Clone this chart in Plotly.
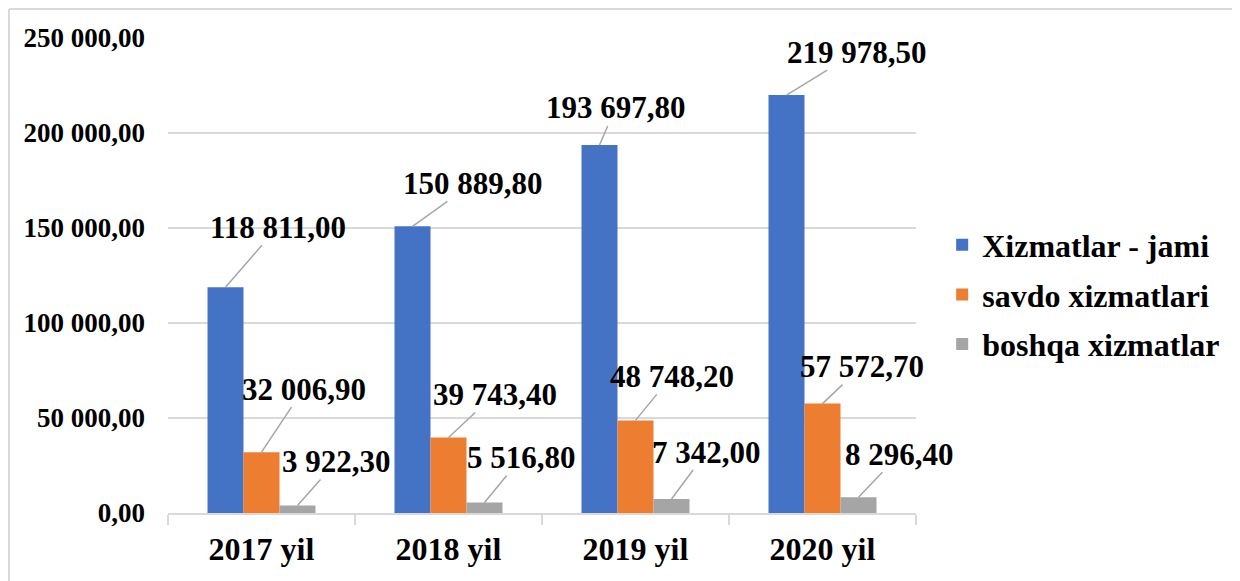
import plotly.graph_objects as go

categories = ["2017 yil", "2018 yil", "2019 yil", "2020 yil"]
series_names = ["Xizmatlar - jami", "savdo xizmatlari", "boshqa xizmatlar"]
xizmatlar_jami = [118811.00, 150889.80, 193697.80, 219978.50]
savdo_xizmatlari = [32006.90, 39743.40, 48748.20, 57572.70]
boshqa_xizmatlar = [3922.30, 5516.80, 7342.00, 8296.40]
y_ticks = [0, 50000, 100000, 150000, 200000, 250000]

series_values = [xizmatlar_jami, savdo_xizmatlari, boshqa_xizmatlar]
colors = ["#4472C4", "#ED7D31", "#A5A5A5"]

# label offsets (pixels) from bar top to label centre
label_offsets = [
    [(52, -60), (60, -43), (16, -37), (70, -43)],
    [(42, -63), (46, -43), (36, -44), (39, -37)],
    [(39, -44), (37, -45), (35, -47), (41, -43)],
]

FONT = "Liberation Serif"

def fmt(v):
    s = f"{v:,.2f}"
    intpart, dec = s.split(".")
    return intpart.replace(",", " ") + "," + dec

fig = go.Figure()
for name, vals, col in zip(series_names, series_values, colors):
    fig.add_trace(go.Bar(
        name=name, x=categories, y=vals, marker_color=col,
        marker_line_width=0, legendgroup=name,
    ))

bargap = 0.4225
n = len(series_values)
bw = (1 - bargap) / n
annotations = []
for si, vals in enumerate(series_values):
    off = (si - (n - 1) / 2) * bw
    for ci, v in enumerate(vals):
        ax, ay = label_offsets[si][ci]
        annotations.append(dict(
            x=ci + off, y=v, xref="x", yref="y",
            text=fmt(v), showarrow=True, arrowhead=0, arrowwidth=1.5,
            arrowcolor="#A6A6A6", ax=ax, ay=ay, standoff=0,
            font=dict(family=FONT, size=31, color="black", weight="bold"),
            borderpad=0,
        ))

# page body has an 8px margin, so the figure is 1232x573 placed at (8, 8)
W, H = 1232, 573
L, R, T, B = 160, 324, 30, 68
pw, ph = W - L - R, H - T - B

fig.update_layout(
    width=W, height=H,
    margin=dict(l=L, r=R, t=T, b=B),
    paper_bgcolor="white", plot_bgcolor="white",
    barmode="group", bargap=bargap, bargroupgap=0,
    font=dict(family=FONT, color="black"),
    annotations=annotations,
    legend=dict(
        x=1.035, xanchor="left", y=0.46, yanchor="middle",
        font=dict(family=FONT, size=32, color="black", weight="bold"),
        tracegroupgap=5, bgcolor="rgba(0,0,0,0)",
    ),
    shapes=[
        dict(type="line", xref="paper", yref="paper",
             x0=(1 - L) / pw, x1=(1 - L) / pw, y0=-1, y1=(H - B - 1) / ph,
             line=dict(color="#D9D9D9", width=2)),
        dict(type="line", xref="paper", yref="paper",
             x0=(1 - L) / pw, x1=(W + 20 - L) / pw,
             y0=(H - B - 1) / ph, y1=(H - B - 1) / ph,
             line=dict(color="#D9D9D9", width=2)),
    ],
)
fig.update_xaxes(
    range=[-0.5, len(categories) - 0.5],
    showgrid=False, showline=True, linecolor="#D9D9D9", linewidth=1.5,
    ticks="outside", tickson="boundaries", ticklen=10, tickcolor="#D9D9D9",
    tickwidth=1.5, ticklabelstandoff=7,
    tickfont=dict(family=FONT, size=32, color="black", weight="bold"),
)
fig.update_yaxes(
    range=[0, 250000], tickvals=y_ticks,
    ticktext=[fmt(v) for v in y_ticks],
    showgrid=True, gridcolor="#D9D9D9", gridwidth=1.5, zeroline=False,
    showline=False, ticks="", ticklabelstandoff=22,
    tickfont=dict(family=FONT, size=27, color="black", weight="bold"),
)

fig.write_html("out.html")
